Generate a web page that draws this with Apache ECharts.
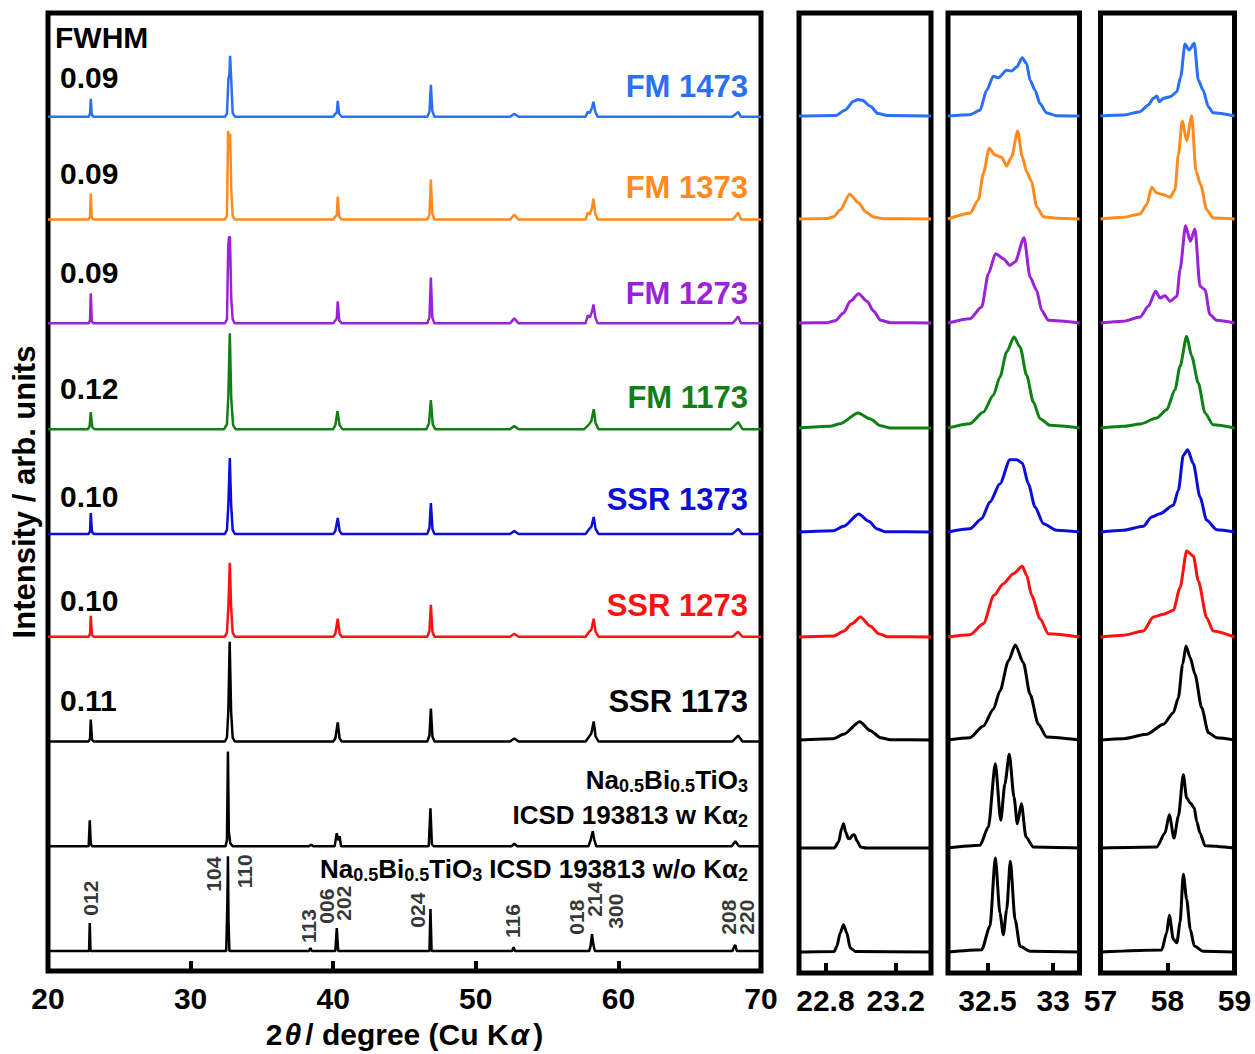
<!DOCTYPE html>
<html lang="en">
<head>
    <meta charset="utf-8">
    <title>XRD NBT</title>
    <script src="https://cdn.jsdelivr.net/npm/echarts@6/dist/echarts.min.js"></script>
    <style>
        body {margin: 0; background: #fff;}
        #main {width: 1255px; height: 1054px;}
    </style>
</head>
<body>
<div id="main"></div>
<script type="application/javascript">
    // sample names, colours, FWHM values (top to bottom)
    var sampleNames = ['FM 1473', 'FM 1373', 'FM 1273', 'FM 1173', 'SSR 1373', 'SSR 1273', 'SSR 1173'];
    var fwhmValues = ['0.09', '0.09', '0.09', '0.12', '0.10', '0.10', '0.11'];
    var traceColors = ['#2a6ff5', '#ff8b1f', '#9b22d6', '#108015', '#0c0ed8', '#ff1111', '#000000', '#000000', '#000000'];

    // vertical offset of each pattern (arb. units)
    var offsetsMain = [85.6, 75.3, 64.9, 54.3, 43.8, 33.5, 23.0, 12.5, 2.0];
    var offsetsInset = [85.7, 75.4, 65.0, 54.5, 44.1, 33.6, 23.3, 12.5, 2.1];

    // reflections of Na0.5Bi0.5TiO3 (label, 2theta, label height)
    var hklNames = ['012', '104', '110', '113', '006', '202', '024', '116', '018', '214', '300', '208', '220'];
    var hklAngles = [23.0, 31.6, 33.8, 38.3, 39.55, 40.75, 45.9, 52.55, 57.05, 58.3, 59.8, 67.7, 68.95];
    var hklLevels = [7.3, 9.7, 10.0, 4.5, 6.5, 6.8, 6.1, 5.0, 5.4, 7.2, 6.0, 5.4, 5.4];

    // full range patterns [2theta, intensity]
    var mainFM1473 = [[20,0],[22.85,0],[22.95,0.3],[23.0,1.8],[23.07,0.2],[23.2,0],[32.4,0],[32.55,0.3],[32.65,3.8],[32.72,4.2],[32.77,6.1],[32.84,4.0],[32.95,0.4],[33.1,0],[40.0,0],[40.15,0.3],[40.25,0.4],[40.32,1.6],[40.42,0.3],[40.6,0],[46.6,0],[46.75,0.5],[46.85,3.2],[46.95,0.6],[47.1,0],[52.4,0],[52.7,0.3],[53.0,0],[57.7,0],[57.85,0.5],[58.0,0.4],[58.15,0.9],[58.25,1.5],[58.38,0.5],[58.55,0],[68.0,0],[68.25,0.3],[68.4,0.5],[68.6,0],[70,0]];
    var mainFM1373 = [[20,0],[22.85,0],[22.95,0.3],[23.0,2.6],[23.07,0.2],[23.2,0],[32.4,0],[32.55,0.4],[32.63,8.9],[32.7,7.3],[32.77,8.6],[32.85,3.0],[32.95,0.4],[33.1,0],[40.0,0],[40.15,0.3],[40.25,0.4],[40.32,2.3],[40.42,0.3],[40.6,0],[46.6,0],[46.75,0.5],[46.85,4.0],[46.95,0.6],[47.1,0],[52.4,0],[52.7,0.5],[53.0,0],[57.7,0],[57.85,0.7],[58.0,0.5],[58.15,1.2],[58.25,2.1],[58.38,0.6],[58.55,0],[68.0,0],[68.25,0.4],[68.4,0.7],[68.6,0],[70,0]];
    var mainFM1273 = [[20,0],[22.85,0],[22.95,0.3],[23.0,3.0],[23.07,0.2],[23.2,0],[32.4,0],[32.55,0.4],[32.64,7.8],[32.7,8.7],[32.76,8.6],[32.85,2.5],[32.95,0.4],[33.1,0],[40.0,0],[40.15,0.3],[40.25,0.5],[40.32,2.2],[40.42,0.3],[40.6,0],[46.6,0],[46.75,0.6],[46.85,4.6],[46.95,0.6],[47.1,0],[52.4,0],[52.7,0.5],[53.0,0],[57.7,0],[57.85,0.8],[58.0,0.6],[58.15,1.2],[58.25,1.9],[58.38,0.6],[58.55,0],[68.0,0],[68.25,0.4],[68.4,0.7],[68.6,0],[70,0]];
    var mainFM1173 = [[20,0],[22.8,0],[22.92,0.3],[23.0,1.7],[23.1,0.2],[23.25,0],[32.35,0],[32.55,0.5],[32.65,3.5],[32.75,9.6],[32.85,3.0],[32.98,0.4],[33.15,0],[40.0,0],[40.15,0.4],[40.3,1.8],[40.45,0.4],[40.65,0],[46.55,0],[46.72,0.6],[46.85,2.9],[46.98,0.5],[47.15,0],[52.4,0],[52.7,0.3],[53.0,0],[57.6,0],[57.9,0.4],[58.1,0.8],[58.27,2.0],[58.4,0.6],[58.6,0],[67.9,0],[68.4,0.7],[68.7,0],[70,0]];
    var mainSSR1373 = [[20,0],[22.85,0],[22.95,0.3],[23.0,2.1],[23.08,0.2],[23.2,0],[32.4,0],[32.55,0.4],[32.65,3.0],[32.75,7.6],[32.84,3.0],[32.95,0.4],[33.1,0],[40.0,0],[40.15,0.3],[40.32,1.6],[40.45,0.3],[40.6,0],[46.6,0],[46.75,0.6],[46.85,3.1],[46.96,0.5],[47.1,0],[52.4,0],[52.7,0.3],[53.0,0],[57.7,0],[57.9,0.4],[58.1,0.7],[58.27,1.7],[58.4,0.5],[58.6,0],[68.0,0],[68.4,0.5],[68.7,0],[70,0]];
    var mainSSR1273 = [[20,0],[22.85,0],[22.95,0.3],[23.0,2.1],[23.08,0.2],[23.2,0],[32.4,0],[32.55,0.4],[32.65,3.0],[32.75,7.4],[32.84,3.0],[32.95,0.4],[33.1,0],[40.0,0],[40.15,0.3],[40.32,1.8],[40.45,0.3],[40.6,0],[46.6,0],[46.75,0.6],[46.85,3.2],[46.96,0.5],[47.1,0],[52.4,0],[52.7,0.3],[53.0,0],[57.7,0],[57.9,0.4],[58.1,0.7],[58.27,1.8],[58.4,0.5],[58.6,0],[68.0,0],[68.4,0.5],[68.7,0],[70,0]];
    var mainSSR1173 = [[20,0],[22.85,0],[22.95,0.3],[23.0,2.2],[23.08,0.2],[23.2,0],[32.4,0],[32.55,0.4],[32.65,3.2],[32.74,10.0],[32.84,3.0],[32.95,0.4],[33.1,0],[40.0,0],[40.15,0.3],[40.32,1.9],[40.45,0.3],[40.6,0],[46.6,0],[46.75,0.6],[46.85,3.3],[46.96,0.5],[47.1,0],[52.4,0],[52.7,0.3],[53.0,0],[57.7,0],[57.9,0.4],[58.1,0.8],[58.27,2.0],[58.4,0.5],[58.6,0],[68.0,0],[68.4,0.6],[68.7,0],[70,0]];
    var mainWithKa2 = [[20,0],[22.85,0],[22.93,2.6],[23.0,0.2],[23.1,0],[32.45,0],[32.55,0.6],[32.62,9.5],[32.68,1.5],[32.78,0.3],[32.95,0],[38.3,0],[38.45,0.15],[38.6,0],[40.1,0],[40.25,1.3],[40.35,0.6],[40.45,1.0],[40.55,0],[46.7,0],[46.82,3.8],[46.92,0.2],[47.05,0],[52.5,0],[52.7,0.25],[52.9,0],[57.9,0],[58.05,0.6],[58.2,1.5],[58.3,0.7],[58.45,0],[67.95,0],[68.2,0.5],[68.45,0],[70,0]];
    var mainWithoutKa2 = [[20,0],[22.88,0],[22.93,2.8],[22.98,0],[32.5,0],[32.58,5.0],[32.62,9.5],[32.66,3.0],[32.72,0],[38.3,0],[38.4,0.3],[38.5,0],[40.15,0],[40.25,2.3],[40.35,0],[46.75,0],[46.82,4.2],[46.9,0],[52.55,0],[52.65,0.4],[52.75,0],[57.95,0],[58.05,0.5],[58.15,1.7],[58.25,0.6],[58.35,0],[68.0,0],[68.1,0.4],[68.2,0.6],[68.3,0],[70,0]];

    // 012 region
    var insA = [
        [[22.65,0],[22.86,0.05],[22.91,0.57],[22.96,1.47],[22.985,1.64],[23.01,1.57],[23.055,0.97],[23.1,0.24],[23.15,0.05],[23.4,0]],
        [[22.65,0],[22.81,0.05],[22.846,0.23],[22.884,0.9],[22.938,2.47],[22.99,1.6],[23.027,0.73],[23.075,0.2],[23.13,0.03],[23.4,0]],
        [[22.65,0],[22.81,0.03],[22.856,0.23],[22.903,1.0],[22.941,2.17],[22.989,2.93],[23.037,2.17],[23.075,1.17],[23.113,0.27],[23.17,0.03],[23.4,0]],
        [[22.65,0],[22.827,0.17],[22.884,0.43],[22.985,1.5],[23.056,0.9],[23.113,0.23],[23.17,0],[23.4,0]],
        [[22.65,0],[22.846,0.13],[22.903,0.57],[22.989,1.8],[23.046,1.07],[23.094,0.3],[23.14,0.03],[23.4,0]],
        [[22.65,0],[22.846,0.1],[22.903,0.57],[22.951,1.33],[22.999,2.0],[23.056,1.07],[23.103,0.33],[23.151,0.03],[23.4,0]],
        [[22.65,0],[22.846,0.13],[22.903,0.57],[22.995,1.83],[23.056,0.93],[23.113,0.23],[23.17,0.02],[23.4,0]],
        [[22.65,0],[22.85,0],[22.875,0.6],[22.893,2.0],[22.903,2.43],[22.915,1.6],[22.93,0.95],[22.938,0.93],[22.955,1.3],[22.964,1.33],[22.98,0.7],[23.0,0.1],[23.03,0],[23.4,0]],
        [[22.65,0],[22.85,0.05],[22.865,0.57],[22.884,1.9],[22.903,2.73],[22.922,1.9],[22.941,0.4],[22.97,0.05],[23.4,0]]
    ];
    // 104/110 region
    var insB = [
        [[32.2,0],[32.367,0.13],[32.443,0.57],[32.494,2.57],[32.545,3.97],[32.583,3.83],[32.646,4.57],[32.684,4.5],[32.722,4.9],[32.765,5.83],[32.798,5.23],[32.824,3.57],[32.862,2.57],[32.9,1.23],[32.95,0.3],[33.026,0.03],[33.2,0]],
        [[32.2,0],[32.367,0.57],[32.431,1.9],[32.469,4.57],[32.514,7.07],[32.557,6.4],[32.608,6.17],[32.646,5.3],[32.684,6.23],[32.73,8.8],[32.765,6.23],[32.798,4.73],[32.836,3.73],[32.874,1.23],[32.925,0.23],[33.026,0.07],[33.2,0]],
        [[32.2,0],[32.367,0.43],[32.456,1.6],[32.507,4.93],[32.562,6.93],[32.621,6.43],[32.671,5.77],[32.71,6.1],[32.778,8.53],[32.824,4.6],[32.874,3.27],[32.912,1.27],[32.963,0.27],[33.2,0]],
        [[32.2,0],[32.367,0.43],[32.469,1.6],[32.545,3.27],[32.595,5.1],[32.646,7.6],[32.702,9.1],[32.748,8.1],[32.798,5.27],[32.849,2.6],[32.9,0.93],[32.976,0.27],[33.2,0]],
        [[32.2,0],[32.367,0.33],[32.456,1.33],[32.519,3.0],[32.595,4.83],[32.671,7.23],[32.722,7.23],[32.765,6.9],[32.811,4.83],[32.862,2.5],[32.925,0.83],[33.026,0.17],[33.2,0]],
        [[32.2,0],[32.367,0.23],[32.469,1.33],[32.55,4.17],[32.621,5.33],[32.697,6.33],[32.765,7.07],[32.798,6.17],[32.836,4.17],[32.9,1.83],[32.963,0.33],[33.2,0]],
        [[32.2,0],[32.367,0.23],[32.469,1.4],[32.545,3.07],[32.595,4.9],[32.659,7.9],[32.712,9.5],[32.773,7.73],[32.824,4.57],[32.887,1.57],[32.95,0.3],[33.2,0]],
        [[32.2,0],[32.443,0.27],[32.507,2.1],[32.56,8.43],[32.601,2.77],[32.633,6.43],[32.666,9.37],[32.702,5.1],[32.727,2.43],[32.758,4.43],[32.793,1.1],[32.849,0.1],[33.2,0]],
        [[32.2,0],[32.456,0.23],[32.519,2.57],[32.56,9.4],[32.595,3.9],[32.621,1.73],[32.646,4.23],[32.674,9.07],[32.71,3.23],[32.748,0.57],[32.824,0.07],[33.2,0]]
    ];
    // 018/214/300 region
    var insC = [
        [[57,0],[57.34,0.1],[57.59,0.43],[57.714,1.1],[57.789,1.77],[57.84,2.0],[57.878,1.43],[57.94,1.77],[58.04,1.93],[58.14,2.43],[58.197,3.93],[58.261,7.2],[58.321,6.6],[58.4,7.27],[58.46,3.6],[58.53,2.6],[58.61,0.93],[58.68,0.33],[59,0]],
        [[57,0],[57.34,0.17],[57.59,0.5],[57.689,1.43],[57.764,3.17],[57.84,2.6],[57.94,2.43],[58.04,2.17],[58.112,2.93],[58.162,6.43],[58.221,9.83],[58.286,7.83],[58.361,10.33],[58.425,4.77],[58.495,3.43],[58.585,0.93],[58.68,0.1],[59,0]],
        [[57,0],[57.34,0.17],[57.59,0.6],[57.714,1.67],[57.823,3.17],[57.888,2.5],[57.963,2.73],[58.04,2.17],[58.14,2.67],[58.187,5.33],[58.27,9.73],[58.34,8.17],[58.41,9.4],[58.485,3.67],[58.56,3.33],[58.634,0.83],[58.734,0.27],[59,0]],
        [[57,0],[57.34,0.17],[57.59,0.4],[57.84,1.0],[57.988,1.83],[58.112,3.83],[58.187,6.17],[58.286,9.17],[58.361,7.17],[58.46,4.5],[58.56,1.5],[58.68,0.33],[59,0]],
        [[57,0],[57.34,0.17],[57.639,0.57],[57.764,1.5],[57.888,1.83],[58.087,2.67],[58.162,4.17],[58.236,7.67],[58.301,8.23],[58.386,6.83],[58.485,3.5],[58.585,1.17],[58.734,0.23],[59,0]],
        [[57,0],[57.34,0.17],[57.639,0.6],[57.789,2.0],[57.94,2.27],[58.087,2.67],[58.187,4.93],[58.286,8.6],[58.386,8.1],[58.46,5.6],[58.585,1.93],[58.68,0.6],[59,0]],
        [[57,0],[57.34,0.13],[57.689,0.57],[57.94,1.57],[58.087,2.73],[58.162,4.23],[58.226,7.57],[58.276,9.4],[58.34,8.23],[58.41,6.57],[58.51,3.23],[58.61,0.73],[58.734,0.23],[59,0]],
        [[57,0],[57.84,0.1],[57.963,1.5],[58.027,3.33],[58.097,1.0],[58.162,3.17],[58.236,7.33],[58.286,5.0],[58.34,4.5],[58.4,4.0],[58.435,2.67],[58.485,1.5],[58.56,0.23],[59,0]],
        [[57,0],[57.913,0.2],[57.988,1.93],[58.027,3.67],[58.087,1.27],[58.14,0.93],[58.187,2.93],[58.236,7.77],[58.286,5.27],[58.34,2.27],[58.4,0.6],[58.53,0.07],[59,0]]
    ];

    var mainTraces = [mainFM1473, mainFM1373, mainFM1273, mainFM1173, mainSSR1373, mainSSR1273, mainSSR1173, mainWithKa2, mainWithoutKa2];

    var FONT = '"Liberation Sans", Arial, sans-serif';
    var chart = echarts.init(document.getElementById('main'), null, {renderer: 'svg'});

    function frame(left, width) {
        return {left: left, top: 13, width: width, height: 960, show: true,
            borderColor: '#000', borderWidth: 5, backgroundColor: 'transparent'};
    }

    function insetAxis(idx, min, max, ticks, labels) {
        return {
            gridIndex: idx, type: 'value', min: min, max: max,
            axisLine: {show: false},
            axisTick: {show: true, inside: true, length: 10, customValues: ticks, lineStyle: {width: 4, color: '#000'}},
            axisLabel: {show: true, customValues: labels, margin: 12, color: '#000',
                fontSize: 30, fontWeight: 'bold', fontFamily: FONT},
            splitLine: {show: false}
        };
    }

    var yAxes = [];
    for (var g = 0; g < 4; g++) {
        yAxes.push({
            gridIndex: g, type: 'value', min: 0, max: 96,
            axisLine: {show: false}, axisTick: {show: false}, axisLabel: {show: false}, splitLine: {show: false}
        });
    }
    yAxes[0].name = 'Intensity / arb. units';
    yAxes[0].nameLocation = 'middle';
    yAxes[0].nameGap = 8;
    yAxes[0].nameTextStyle = {fontSize: 31, fontWeight: 'bold', color: '#000', fontFamily: FONT};

    var series = [];
    function addTraces(points, offsets, axisIdx, width, smooth) {
        points.forEach(function (pts, i) {
            series.push({
                type: 'line', xAxisIndex: axisIdx, yAxisIndex: axisIdx,
                data: pts.map(function (p) { return [p[0], offsets[i] + p[1]]; }),
                showSymbol: false, symbol: 'none', smooth: smooth, smoothMonotone: 'x',
                lineStyle: {color: traceColors[i], width: width}, z: 3, silent: true
            });
        });
    }
    addTraces(mainTraces, offsetsMain, 0, 2.5, false);
    addTraces(insA, offsetsInset, 1, 3, 0.25);
    addTraces(insB, offsetsInset, 2, 3, 0.25);
    addTraces(insC, offsetsInset, 3, 3, 0.25);

    series.push({
        type: 'scatter', xAxisIndex: 0, yAxisIndex: 0, symbolSize: 0, silent: true,
        data: hklNames.map(function (n, i) { return {name: n, value: [hklAngles[i], hklLevels[i]]}; }),
        label: {show: true, formatter: '{b}', rotate: 90, position: 'inside', color: '#000',
            fontSize: 21, fontWeight: 'bold', fontFamily: FONT}
    });

    // text annotations
    var graphics = [];
    function txt(x, y, text, color, align, size) {
        graphics.push({type: 'text', x: x, y: y, silent: true, style: {
            text: text, fill: color, fontSize: size, fontWeight: 'bold', fontFamily: FONT,
            textAlign: align, textVerticalAlign: 'middle'}});
    }
    txt(55, 37, 'FWHM', '#000', 'left', 30);
    var fwhmY = [77, 173, 272, 388, 496, 600, 700];
    var nameY = [86, 187, 293, 397, 499, 605, 701];
    for (var i = 0; i < sampleNames.length; i++) {
        txt(60, fwhmY[i], fwhmValues[i], '#000', 'left', 30);
        txt(748, nameY[i], sampleNames[i], traceColors[i], 'right', 31);
    }
    var richIcsd = {
        m: {fontSize: 26, fontWeight: 'bold', fontFamily: FONT, lineHeight: 30, color: '#000'},
        s: {fontSize: 18, fontWeight: 'bold', fontFamily: FONT, lineHeight: 18, verticalAlign: 'bottom', color: '#000'}
    };
    var icsdLines = [
        [780, '{m|Na}{s|0.5}{m|Bi}{s|0.5}{m|TiO}{s|3}'],
        [815, '{m|ICSD 193813 w K\u03b1}{s|2}'],
        [869, '{m|Na}{s|0.5}{m|Bi}{s|0.5}{m|TiO}{s|3}{m| ICSD 193813 w/o K\u03b1}{s|2}']
    ];
    icsdLines.forEach(function (l) {
        graphics.push({type: 'text', x: 748, y: l[0], silent: true, style: {
            text: l[1], rich: richIcsd, textAlign: 'right', textVerticalAlign: 'middle'}});
    });

    var option = {
        animation: false,
        backgroundColor: '#fff',
        grid: [frame(48, 713), frame(799, 132), frame(948, 131.5), frame(1100.5, 134)],
        xAxis: [
            {
                gridIndex: 0, type: 'value', min: 20, max: 70, interval: 10,
                axisLine: {show: false},
                axisTick: {show: true, inside: true, length: 10, lineStyle: {width: 4, color: '#000'}},
                axisLabel: {margin: 12, color: '#000', fontSize: 30, fontWeight: 'bold', fontFamily: FONT},
                splitLine: {show: false},
                name: '{n|2}{i|\u03b8}{n|/ degree (Cu K}{i|\u03b1}{n|)}',
                nameLocation: 'middle', nameGap: 48,
                nameTextStyle: {
                    rich: {
                        n: {fontSize: 30, fontWeight: 'bold', fontFamily: FONT, color: '#000'},
                        i: {fontSize: 30, fontWeight: 'bold', fontStyle: 'italic', fontFamily: FONT, color: '#000', padding: [0, 4, 0, 2]}
                    }
                }
            },
            insetAxis(1, 22.65, 23.4, [22.8, 23.2], [22.8, 23.2]),
            insetAxis(2, 32.2, 33.2, [32.5, 33], [32.5, 33]),
            insetAxis(3, 57, 59, [58], [57, 58, 59])
        ],
        yAxis: yAxes,
        series: series,
        graphic: graphics
    };

    chart.setOption(option);
</script>
</body>
</html>
